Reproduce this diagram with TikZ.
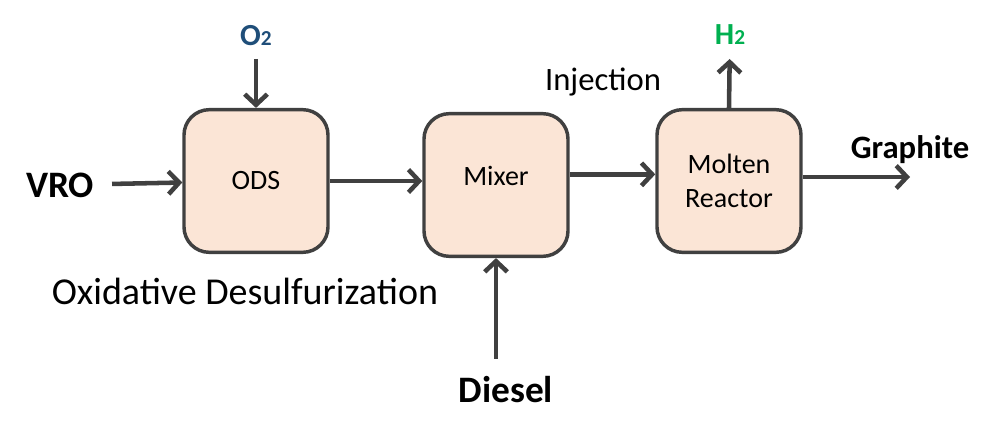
\documentclass[tikz,border=0pt]{standalone}
\usepackage{fontspec}
\setmainfont{Carlito}
\usepackage{tikz}
\usetikzlibrary{positioning,arrows.meta}

\definecolor{boxfill}{HTML}{FBE5D6}
\definecolor{linegray}{HTML}{404040}
\definecolor{oxblue}{HTML}{1F4E79}
\definecolor{hgreen}{HTML}{00B050}

\tikzset{
    unit/.style={draw=linegray, line width=2.6pt, fill=boxfill, rounded corners=19pt,
        minimum width=108pt, minimum height=107pt, align=center,
        font=\fontsize{21}{26}\selectfont},
    flow/.style={draw=linegray, line width=3.4pt,
        -{Straight Barb[length=8pt,width=17pt]}},
    feed/.style={font=\fontsize{28}{32}\selectfont\bfseries},
    gas/.style={font=\fontsize{23}{26}\selectfont\bfseries}
}

\begin{document}
\begin{tikzpicture}[x=0.75pt, y=-0.75pt]
            \useasboundingbox (0,0) rectangle (1000,436);

            \node[unit] (ods) at (256,181) {ODS};
            \node[unit, text depth=14pt] (mixer) at (496,185) {Mixer};
            \node[unit] (molten) at (729,181) {Molten\\Reactor};

            \node[feed] (vro) at (60,185) {VRO};
            \node[feed] (diesel) at (506,390) {Diesel};
            \node[font=\fontsize{24.5}{28}\selectfont\bfseries] (graphite) at (910,150) {Graphite};
            \node[gas, text=oxblue] (otwo) at (256,36) {O{\fontsize{16}{16}\selectfont 2}};
            \node[gas, text=hgreen] (htwo) at (730,35) {H{\fontsize{16}{16}\selectfont 2}};
            \node[font=\fontsize{24.5}{28}\selectfont] (inject) at (603,82) {Injection};
            \node[font=\fontsize{28.5}{32}\selectfont] (desulf) at (245,291) {Oxidative Desulfurization};
            \coordinate (gout) at (910,177);

            \draw[flow, shorten <=10pt] (vro) -- (ods);
            \draw[flow, shorten <=6pt] (otwo) -- (ods);
            \draw[flow] (ods.east) -- (ods.east -| mixer.west);
            \draw[flow] ([yshift=8pt]mixer.east) -- ([yshift=8pt]mixer.east -| molten.west);
            \draw[flow, shorten <=10pt] (mixer |- diesel.north) -- (mixer.south);
            \draw[flow, shorten >=7pt] (molten.north) -- (htwo);
            \draw[flow] ([yshift=3pt]molten.east) -- (gout);
        \end{tikzpicture}
\end{document}
